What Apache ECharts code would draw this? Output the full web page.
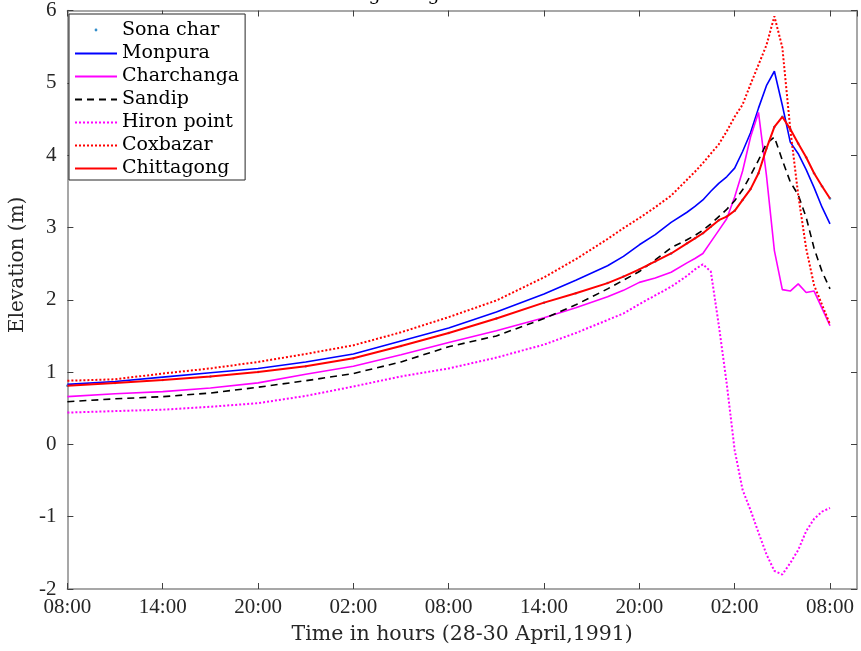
<!DOCTYPE html>
<html>
<head>
<meta charset="utf-8">
<script src="https://cdn.jsdelivr.net/npm/echarts@6/dist/echarts.min.js"></script>
<style>html,body{margin:0;padding:0;background:#fff;}#c{width:861px;height:651px;}</style>
</head>
<body>
<div id="c"></div>
<script>
// hours after 08:00, 28 April 1991
const hours = [0,3,6,9,12,15,18,21,24,27,30,32,34,35,36,37,38,39,39.5,40,40.5,41,41.5,42,42.5,43,43.5,44,44.5,45,45.5,46,46.5,47,47.5,48];
const tickLabels = ['08:00','14:00','20:00','02:00','08:00','14:00','20:00','02:00','08:00'];
const seriesNames = ['Sona char','Monpura','Charchanga','Sandip','Hiron point','Coxbazar','Chittagong'];

const sonaChar   = [0.81,0.85,0.89,0.94,1.00,1.08,1.19,1.36,1.54,1.74,1.96,2.09,2.23,2.32,2.42,2.53,2.64,2.78,2.85,2.92,3.01,3.10,3.15,3.23,3.38,3.53,3.75,4.09,4.39,4.53,4.36,4.16,3.97,3.75,3.57,3.40];
const monpura    = [0.83,0.87,0.93,0.99,1.05,1.14,1.25,1.43,1.61,1.83,2.08,2.27,2.47,2.60,2.76,2.90,3.07,3.21,3.29,3.38,3.50,3.61,3.70,3.82,4.05,4.31,4.65,4.96,5.16,4.69,4.18,4.02,3.80,3.55,3.28,3.05];
const charchanga = [0.66,0.70,0.73,0.78,0.85,0.97,1.08,1.24,1.41,1.57,1.75,1.89,2.04,2.13,2.24,2.30,2.38,2.51,2.57,2.64,2.80,2.96,3.12,3.42,3.78,4.25,4.59,3.72,2.68,2.14,2.12,2.22,2.10,2.12,1.88,1.64];
const sandip     = [0.59,0.63,0.66,0.71,0.79,0.88,0.98,1.14,1.35,1.50,1.74,1.93,2.15,2.27,2.39,2.55,2.72,2.83,2.89,2.96,3.05,3.15,3.25,3.37,3.52,3.72,3.93,4.16,4.25,3.93,3.63,3.45,3.14,2.71,2.39,2.15];
const hironPoint = [0.44,0.46,0.48,0.52,0.57,0.67,0.80,0.94,1.05,1.20,1.38,1.54,1.72,1.81,1.94,2.06,2.18,2.33,2.42,2.49,2.39,1.65,0.84,-0.08,-0.63,-0.91,-1.22,-1.52,-1.75,-1.80,-1.64,-1.46,-1.20,-1.03,-0.93,-0.88];
const coxbazar   = [0.88,0.90,0.98,1.05,1.14,1.25,1.37,1.55,1.76,1.99,2.31,2.56,2.84,2.99,3.13,3.28,3.44,3.66,3.77,3.89,4.02,4.15,4.33,4.53,4.70,4.98,5.25,5.52,5.92,5.49,4.36,3.45,2.71,2.20,1.93,1.66];
const chittagong = [0.81,0.85,0.89,0.94,1.00,1.08,1.19,1.36,1.54,1.74,1.96,2.09,2.23,2.32,2.42,2.53,2.64,2.78,2.85,2.92,3.01,3.10,3.15,3.23,3.38,3.53,3.75,4.09,4.39,4.53,4.36,4.16,3.97,3.75,3.57,3.40];

function pairs(ys){ return hours.map((h,i)=>[h, ys[i]]); }

const serif = 'DejaVu Serif';
const tickFont = 'Liberation Serif';
const axisGray = '#8a8a8a';
const tickColor = '#404040';

function lineSeries(name, ys, color, width, type){
  return {
    name: name, type: 'line', data: pairs(ys), symbol: 'none', showSymbol: false,
    color: color,
    lineStyle: { color: color, width: width, type: type },
    itemStyle: { color: color },
    emphasis: { disabled: true }
  };
}
function legendLine(name){ return { name: name, itemStyle: { opacity: 0 } }; }

const chart = echarts.init(document.getElementById('c'), null, {renderer: 'canvas'});
chart.setOption({
  animation: false,
  backgroundColor: '#fff',
  title: {
    text: 'Storm surge height at different stations',
    left: 459, top: -19, textAlign: 'center',
    textStyle: { fontFamily: serif, fontSize: 19, fontWeight: 'normal', color: '#000' }
  },
  grid: { left: 61, right: 4, top: 7, bottom: 62, containLabel: false },
  legend: {
    orient: 'vertical', left: 69, top: 14,
    backgroundColor: '#fff', borderColor: '#262626', borderWidth: 1,
    padding: [6, 6, 2, 5], itemWidth: 42, itemHeight: 20, itemGap: 4,
    textStyle: { fontFamily: serif, fontSize: 19, color: '#000' },
    data: [
      { name: seriesNames[0], icon: 'path://M0,0L0.1,0M43,50a7,7 0 1,0 14,0a7,7 0 1,0 -14,0ZM100,100L99.9,100' },
      legendLine(seriesNames[1]), legendLine(seriesNames[2]), legendLine(seriesNames[3]),
      legendLine(seriesNames[4]), legendLine(seriesNames[5]), legendLine(seriesNames[6])
    ]
  },
  xAxis: [
    {
      type: 'value', min: 0, max: 49.7, interval: 6, position: 'bottom',
      axisLine: { show: true, onZero: false, lineStyle: { color: axisGray, width: 1.5 } },
      axisTick: { show: true, inside: true, length: 6, lineStyle: { color: tickColor } },
      splitLine: { show: false },
      axisLabel: {
        margin: 8, fontFamily: tickFont, fontSize: 21, color: '#262626',
        showMaxLabel: false,
        formatter: function(v){ const i = Math.round(v/6); return Math.abs(v - i*6) < 1e-6 ? (tickLabels[i] || '') : ''; }
      },
      name: 'Time in hours (28-30 April,1991)', nameLocation: 'middle', nameGap: 35,
      nameTextStyle: { fontFamily: serif, fontSize: 20.5, color: '#262626' }
    },
    {
      type: 'value', min: 0, max: 49.7, interval: 6, position: 'top',
      axisLine: { show: true, onZero: false, lineStyle: { color: axisGray, width: 1.5 } },
      axisTick: { show: true, inside: true, length: 6, lineStyle: { color: tickColor } },
      splitLine: { show: false }, axisLabel: { show: false }
    }
  ],
  yAxis: [
    {
      type: 'value', min: -2, max: 6, interval: 1, position: 'left',
      axisLine: { show: true, onZero: false, lineStyle: { color: axisGray, width: 1.5 } },
      axisTick: { show: true, inside: true, length: 6, lineStyle: { color: tickColor } },
      splitLine: { show: false },
      axisLabel: { margin: 11, fontFamily: tickFont, fontSize: 21, color: '#262626' },
      name: 'Elevation (m)', nameLocation: 'middle', nameGap: 28,
      nameTextStyle: { fontFamily: serif, fontSize: 20, color: '#262626', padding: [0, 0, 0, 70] }
    },
    {
      type: 'value', min: -2, max: 6, interval: 1, position: 'right',
      axisLine: { show: true, onZero: false, lineStyle: { color: axisGray, width: 1.5 } },
      axisTick: { show: true, inside: true, length: 6, lineStyle: { color: tickColor } },
      splitLine: { show: false }, axisLabel: { show: false }
    }
  ],
  series: [
    {
      name: seriesNames[0], type: 'scatter', data: pairs(sonaChar),
      symbol: 'circle', symbolSize: 2.5, color: '#0072BD', itemStyle: { color: '#0072BD' },
      emphasis: { disabled: true }
    },
    lineSeries(seriesNames[1], monpura, '#0000FF', 1.6, 'solid'),
    lineSeries(seriesNames[2], charchanga, '#FF00FF', 1.6, 'solid'),
    lineSeries(seriesNames[3], sandip, '#000000', 1.6, [7, 5]),
    lineSeries(seriesNames[4], hironPoint, '#FF00FF', 2, [2, 2]),
    lineSeries(seriesNames[5], coxbazar, '#FF0000', 2, [2, 2]),
    lineSeries(seriesNames[6], chittagong, '#FF0000', 2, 'solid')
  ]
});
</script>
</body>
</html>
